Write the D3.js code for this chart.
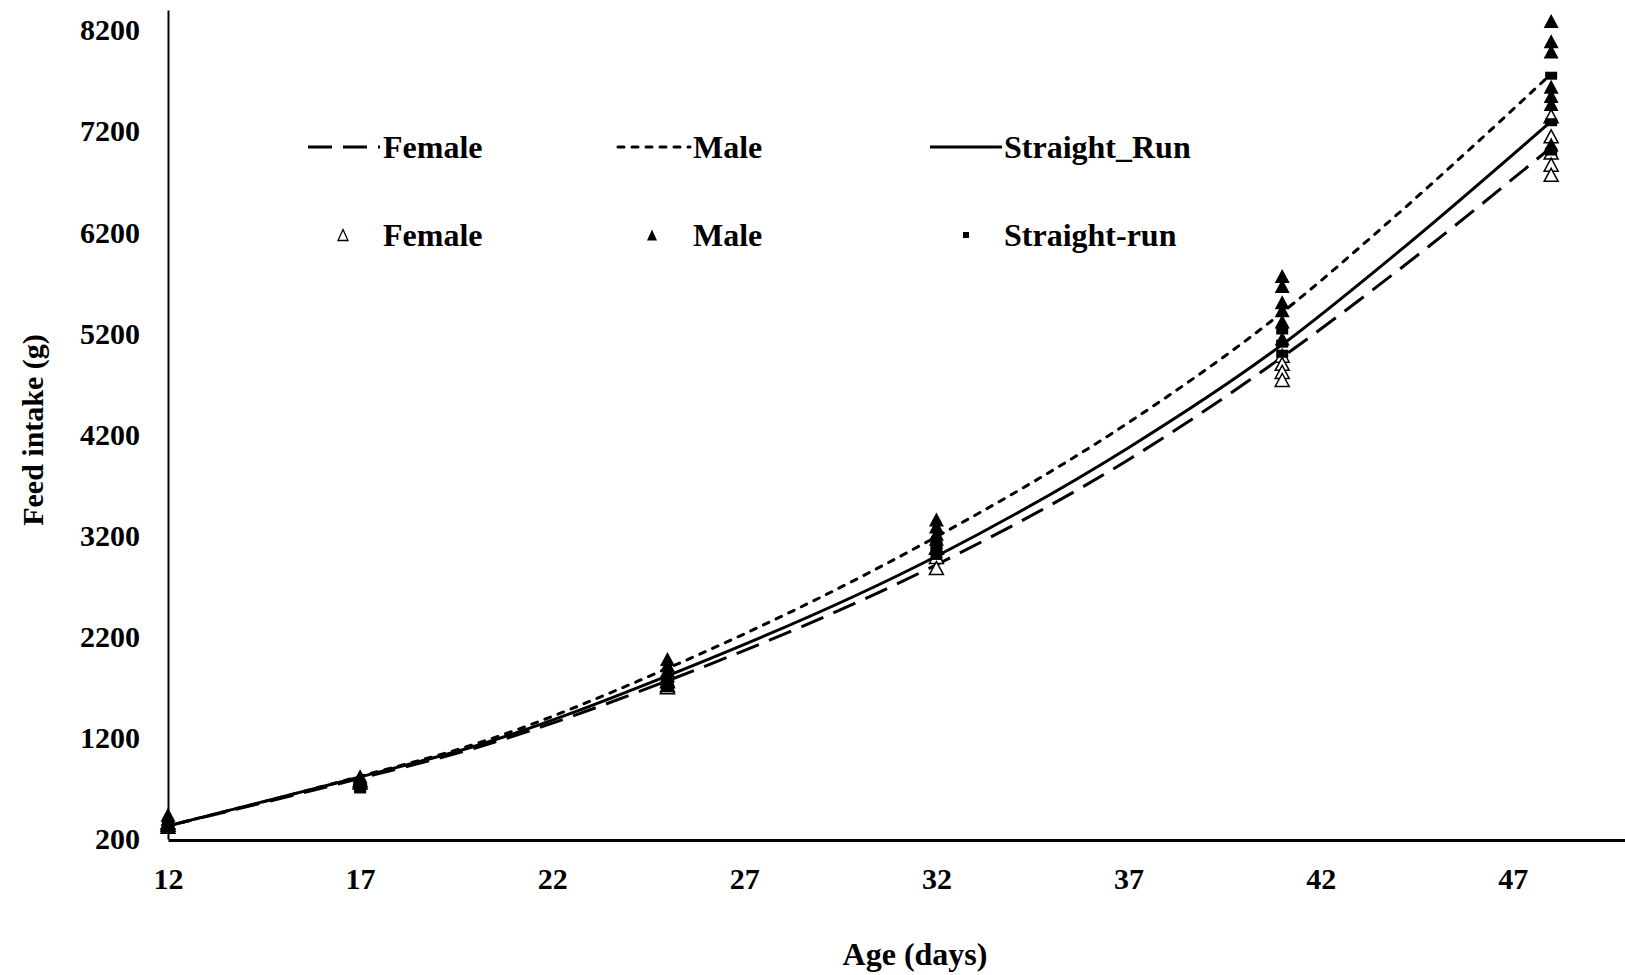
<!DOCTYPE html>
<html>
<head>
<meta charset="utf-8">
<script src="https://cdn.jsdelivr.net/npm/d3@7"></script>
<style>
  body { margin: 0; background: #fff; }
  text { font-family: 'Liberation Serif', 'Times New Roman', serif; font-weight: bold; }
</style>
</head>
<body>
<div id="chart"></div>
<script>
// observation ages (days)
let ages = [12, 17, 25, 32, 41, 48];

// observed feed intake (g) per age, one inner list per age
let femaleObs = [
  [340, 320, 360], [780, 760], [1760, 1720, 1700],
  [3080, 2990, 2880], [4980, 4900, 4820, 4740], [7350, 7150, 6990, 6870, 6770]
];
let maleObs = [
  [440, 400, 370], [820, 800], [1980, 1920, 1870, 1820, 1780],
  [3360, 3290, 3220, 3170], [5770, 5670, 5510, 5430, 5320, 5150],
  [8290, 8090, 7990, 7640, 7550, 7470, 7070]
];
let straightObs = [
  [330, 300, 350], [740, 700, 690], [1760, 1720, 1690],
  [3110, 3050, 3000], [5230, 5100, 5000], [7750, 7290, 7000]
];

// fitted curves
let curveAges = [12, 17, 20, 25, 32, 37, 41, 44, 48];
let femaleFit = [330, 800, 1100, 1765, 2913, 3952, 4967, 5820, 7040];
let maleFit = [330, 820, 1140, 1888, 3190, 4319, 5408, 6380, 7768];
let straightFit = [330, 814, 1120, 1814, 2997, 4071, 5090, 6000, 7299];

let xTicks = [12, 17, 22, 27, 32, 37, 42, 47];
let yTicks = [200, 1200, 2200, 3200, 4200, 5200, 6200, 7200, 8200];

let width = 1625;
let height = 975;
let tickFont = 30;
let labelFont = 32;

let svg = d3.select('#chart')
  .append('svg')
  .attr('width', width)
  .attr('height', height);

// scales
let xScale = d3.scaleLinear()
  .domain([12, 50])
  .range([168, 1628]);
let yScale = d3.scaleLinear()
  .domain([200, 8400])
  .range([839, 10]);

// axes
let xAxis = d3.axisBottom(xScale)
  .tickValues(xTicks)
  .tickFormat(d3.format('d'))
  .tickSize(0)
  .tickPadding(28);
let gx = svg.append('g')
  .attr('transform', 'translate(0,840)')
  .call(xAxis);
gx.select('.domain').attr('stroke', '#000').attr('stroke-width', 3);
gx.selectAll('text')
  .attr('font-size', tickFont + 'px')
  .attr('fill', '#000');

let yAxis = d3.axisLeft(yScale)
  .tickValues(yTicks)
  .tickFormat(d3.format('d'))
  .tickSize(0)
  .tickPadding(28);
let gy = svg.append('g')
  .attr('transform', 'translate(168,0)')
  .call(yAxis);
gy.select('.domain').attr('stroke', '#000').attr('stroke-width', 2);
gy.selectAll('text')
  .attr('font-size', tickFont + 'px')
  .attr('fill', '#000');

// axis titles
svg.append('text')
  .attr('x', 915)
  .attr('y', 965)
  .attr('text-anchor', 'middle')
  .attr('font-size', labelFont + 'px')
  .text('Age (days)');
svg.append('text')
  .attr('transform', 'rotate(-90)')
  .attr('x', -430)
  .attr('y', 43)
  .attr('text-anchor', 'middle')
  .attr('font-size', '30px')
  .text('Feed intake (g)');

// line styles
let styles = {
  female: { dash: '24 11', cap: 'butt' },
  male: { dash: '6 8', cap: 'round' },
  straight: { dash: null, cap: 'butt' }
};

let line = d3.line()
  .x(d => xScale(d[0]))
  .y(d => yScale(d[1]))
  .curve(d3.curveMonotoneX);

function drawFit(values, style) {
  svg.append('path')
    .datum(curveAges.map((a, i) => [a, values[i]]))
    .attr('d', line)
    .attr('fill', 'none')
    .attr('stroke', '#000')
    .attr('stroke-width', 3)
    .attr('stroke-linecap', style.cap)
    .attr('stroke-dasharray', style.dash);
}
drawFit(femaleFit, styles.female);
drawFit(maleFit, styles.male);
drawFit(straightFit, styles.straight);

// markers
function triPath(w, h) {
  return 'M0,' + (-h / 2) + 'L' + (w / 2) + ',' + (h / 2) + 'L' + (-w / 2) + ',' + (h / 2) + 'Z';
}

function flatten(obs) {
  let out = [];
  obs.forEach((vals, i) => vals.forEach(v => out.push([ages[i], v])));
  return out;
}

svg.append('g').selectAll('path')
  .data(flatten(femaleObs))
  .enter()
  .append('path')
  .attr('d', triPath(14, 13))
  .attr('transform', d => 'translate(' + xScale(d[0]) + ',' + yScale(d[1]) + ')')
  .attr('fill', '#fff')
  .attr('stroke', '#000')
  .attr('stroke-width', 1.5);

svg.append('g').selectAll('path')
  .data(flatten(maleObs))
  .enter()
  .append('path')
  .attr('d', triPath(15, 14))
  .attr('transform', d => 'translate(' + xScale(d[0]) + ',' + yScale(d[1]) + ')')
  .attr('fill', '#000');

svg.append('g').selectAll('rect')
  .data(flatten(straightObs))
  .enter()
  .append('rect')
  .attr('x', d => xScale(d[0]) - 6)
  .attr('y', d => yScale(d[1]) - 4)
  .attr('width', 12)
  .attr('height', 8)
  .attr('fill', '#000');

// legend
let legendLines = [
  { label: 'Female', x: 308, style: styles.female },
  { label: 'Male', x: 618, style: styles.male },
  { label: 'Straight_Run', x: 930, style: styles.straight }
];
let legendMarks = [
  { label: 'Female', x: 343, type: 'open' },
  { label: 'Male', x: 652, type: 'filled' },
  { label: 'Straight-run', x: 966, type: 'square' }
];
let textX = [383, 693, 1004];
let row1 = 147;
let row2 = 235;

legendLines.forEach((d, i) => {
  svg.append('line')
    .attr('x1', d.x)
    .attr('x2', d.x + 72)
    .attr('y1', row1)
    .attr('y2', row1)
    .attr('stroke', '#000')
    .attr('stroke-width', 3)
    .attr('stroke-linecap', d.style.cap)
    .attr('stroke-dasharray', d.style.dash);
  svg.append('text')
    .attr('x', textX[i])
    .attr('y', row1)
    .attr('dy', '0.34em')
    .attr('font-size', labelFont + 'px')
    .text(d.label);
});

legendMarks.forEach((d, i) => {
  if (d.type === 'square') {
    svg.append('rect')
      .attr('x', d.x - 3)
      .attr('y', row2 - 3)
      .attr('width', 6)
      .attr('height', 6)
      .attr('fill', '#000');
  } else {
    svg.append('path')
      .attr('d', triPath(10, 11))
      .attr('transform', 'translate(' + d.x + ',' + row2 + ')')
      .attr('fill', d.type === 'filled' ? '#000' : '#fff')
      .attr('stroke', '#000')
      .attr('stroke-width', d.type === 'filled' ? 0 : 1.3);
  }
  svg.append('text')
    .attr('x', textX[i])
    .attr('y', row2)
    .attr('dy', '0.34em')
    .attr('font-size', labelFont + 'px')
    .text(d.label);
});
</script>
</body>
</html>
